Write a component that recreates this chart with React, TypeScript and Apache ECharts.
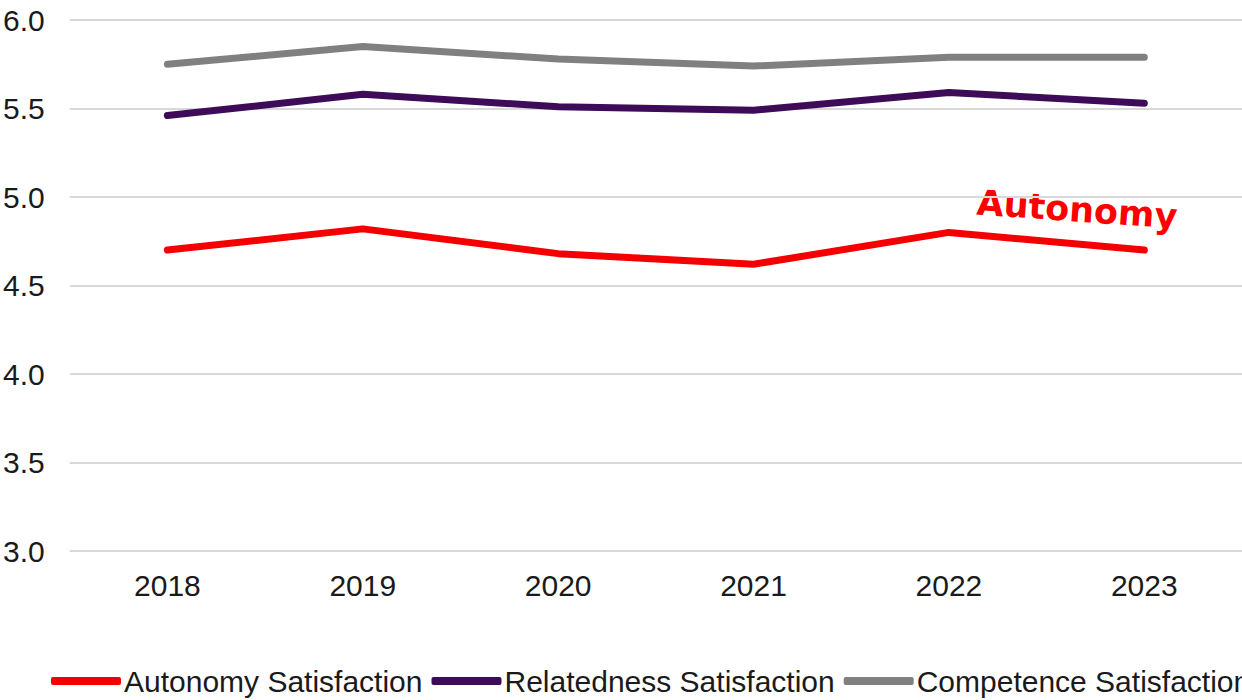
import React, { useEffect, useRef } from "react";
import * as echarts from "echarts";

const years = ["2018", "2019", "2020", "2021", "2022", "2023"];
const autonomy = [4.7, 4.82, 4.68, 4.62, 4.8, 4.7];
const relatedness = [5.46, 5.58, 5.51, 5.49, 5.59, 5.53];
const competence = [5.75, 5.85, 5.78, 5.74, 5.79, 5.79];
const seriesNames = ["Autonomy Satisfaction", "Relatedness Satisfaction", "Competence Satisfaction"];
const colors = ["#f40000", "#3d0b58", "#808080"];

export default function App() {
  const ref = useRef<HTMLDivElement>(null);
  useEffect(() => {
    if (!ref.current) return;
    const chart = echarts.init(ref.current, undefined, { renderer: "svg" });
    const font = "Liberation Sans, Arial, sans-serif";
    const mk = (name: string, data: number[], color: string) => ({
      name,
      type: "line",
      data,
      symbol: "none",
      smooth: false,
      lineStyle: { width: 7, color, cap: "round", join: "round" },
      itemStyle: { color },
    });
    chart.setOption({
      animation: false,
      grid: { left: 68, top: 20, width: 1177, height: 531, containLabel: false },
      xAxis: {
        type: "category",
        data: years,
        boundaryGap: true,
        axisLine: { show: false },
        axisTick: { show: false },
        axisLabel: { fontSize: 30, color: "#1a1a1a", fontFamily: font, margin: 19 },
      },
      yAxis: {
        type: "value",
        min: 3,
        max: 6,
        interval: 0.5,
        axisLine: { show: false },
        axisTick: { show: false },
        axisLabel: {
          fontSize: 30,
          color: "#1a1a1a",
          fontFamily: font,
          margin: 25,
          formatter: (v: number) => v.toFixed(1),
        },
        splitLine: { lineStyle: { color: "#d9d9d9", width: 2 } },
      },
      legend: {
        left: 46,
        top: 661,
        width: 2000,
        icon: "roundRect",
        itemWidth: 70,
        itemHeight: 8,
        itemGap: 9,
        textStyle: { fontSize: 30, color: "#1a1a1a", fontFamily: font, padding: [0, 0, 0, -2] },
        data: seriesNames,
      },
      series: [
        mk(seriesNames[0], autonomy, colors[0]),
        mk(seriesNames[1], relatedness, colors[1]),
        mk(seriesNames[2], competence, colors[2]),
      ],
      graphic: [
        {
          type: "text",
          x: 978,
          y: 185,
          rotation: -0.07,
          style: {
            text: "Autonomy",
            fill: "#ff0000",
            fontSize: 35,
            fontFamily: "DejaVu Sans, sans-serif",
            fontWeight: "bold",
          },
        },
      ],
    });
    return () => chart.dispose();
  }, []);
  return (
    <div
      ref={ref}
      style={{ position: "fixed", left: 0, top: 0, width: 1242, height: 700, background: "#fff" }}
    />
  );
}
